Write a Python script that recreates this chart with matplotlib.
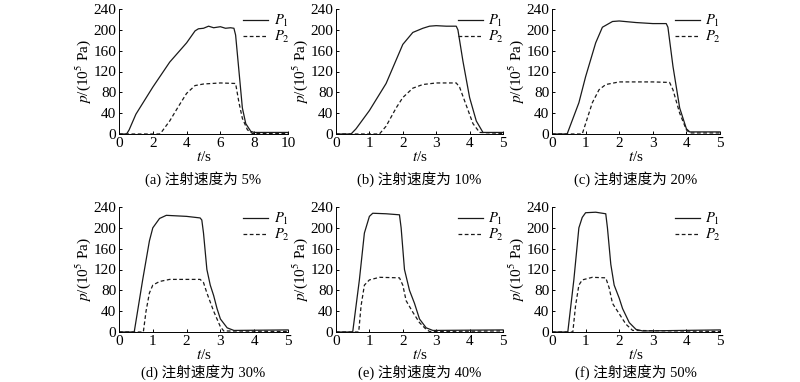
import matplotlib
matplotlib.use("Agg")
import matplotlib.pyplot as plt

plt.rcParams['font.family'] = ['Liberation Serif', 'Noto Sans CJK SC']
plt.rcParams['mathtext.fontset'] = 'stix'

# ---- data (t in s, p in 10^5 Pa) ----
# (a) 5%
ta_1 = [0, 0.45, 0.6, 1, 2, 3, 4, 4.5, 4.7, 5, 5.3, 5.6, 6, 6.3, 6.6, 6.8, 6.9, 7.1, 7.3, 7.5, 7.8, 8, 9, 10]
pa_1 = [0, 0, 8, 38, 90, 138, 175, 198, 202, 203, 207, 204, 206, 203, 204, 203, 190, 120, 50, 20, 5, 3, 3, 3]
ta_2 = [0, 2.4, 2.5, 3, 3.5, 4, 4.5, 5, 6, 6.9, 7.1, 7.3, 7.6, 7.9, 10]
pa_2 = [0, 0, 3, 25, 52, 78, 93, 96, 98, 97, 60, 30, 8, 1, 1]

# (b) 10%
tb_1 = [0, 0.45, 0.6, 1, 1.5, 2, 2.3, 2.6, 2.8, 3, 3.3, 3.6, 3.65, 3.8, 4.0, 4.2, 4.4, 5]
pb_1 = [0, 0, 10, 45, 97, 172, 195, 203, 207, 208, 207, 207, 200, 140, 70, 25, 3, 3]
tb_2 = [0, 1.3, 1.5, 1.8, 2, 2.3, 2.6, 3, 3.6, 3.7, 3.9, 4.1, 4.3, 5]
pb_2 = [0, 0, 15, 50, 70, 88, 95, 98, 98, 90, 55, 20, 3, 1]

# (c) 20%
tc_1 = [0, 0.45, 0.8, 1, 1.3, 1.5, 1.8, 2, 2.5, 3, 3.4, 3.45, 3.6, 3.8, 4.0, 4.1, 5]
pc_1 = [0, 0, 60, 110, 175, 205, 216, 217, 214, 212, 212, 205, 130, 50, 10, 4, 4]
tc_2 = [0, 0.9, 1.0, 1.2, 1.4, 1.6, 2, 3, 3.5, 3.6, 3.8, 4.0, 4.1, 5]
pc_2 = [0, 0, 20, 60, 85, 95, 100, 100, 99, 85, 40, 8, 2, 2]

# (d) 30%
td_1 = [0, 0.45, 0.7, 0.9, 1.0, 1.2, 1.4, 2, 2.4, 2.45, 2.5, 2.6, 2.7, 2.8, 2.9, 3.0, 3.2, 3.4, 5]
pd_1 = [0, 0, 100, 175, 200, 218, 224, 222, 219, 215, 190, 120, 90, 70, 45, 25, 8, 3, 4]
td_2 = [0, 0.72, 0.8, 0.9, 1.0, 1.2, 1.5, 2.4, 2.5, 2.6, 2.8, 3.0, 3.1, 5]
pd_2 = [0, 0, 40, 75, 90, 97, 101, 101, 95, 75, 40, 10, 2, 1]

# (e) 40%
te_1 = [0, 0.5, 0.7, 0.85, 1.0, 1.1, 1.5, 1.9, 1.95, 2.05, 2.2, 2.35, 2.5, 2.7, 2.9, 5]
pe_1 = [0, 0, 100, 190, 222, 228, 227, 225, 200, 120, 80, 55, 25, 8, 3, 4]
te_2 = [0, 0.68, 0.75, 0.85, 1.0, 1.3, 1.9, 2.0, 2.1, 2.3, 2.5, 2.7, 2.8, 5]
pe_2 = [0, 0, 50, 90, 100, 105, 104, 90, 60, 38, 18, 5, 1, 2]

# (f) 50%
tf_1 = [0, 0.47, 0.65, 0.8, 0.9, 1.0, 1.3, 1.6, 1.65, 1.75, 1.85, 2.0, 2.1, 2.3, 2.5, 2.7, 5]
pf_1 = [0, 0, 100, 200, 220, 229, 230, 227, 200, 130, 90, 65, 45, 18, 5, 2, 4]
tf_2 = [0, 0.62, 0.7, 0.8, 0.9, 1.2, 1.6, 1.7, 1.8, 2.0, 2.2, 2.4, 5]
pf_2 = [0, 0, 50, 90, 100, 105, 104, 85, 55, 35, 15, 3, 1]

captions = ['(a) 注射速度为 5%', '(b) 注射速度为 10%', '(c) 注射速度为 20%',
            '(d) 注射速度为 30%', '(e) 注射速度为 40%', '(f) 注射速度为 50%']
xmax = [10, 5, 5, 5, 5, 5]
curves = [(ta_1, pa_1, ta_2, pa_2), (tb_1, pb_1, tb_2, pb_2), (tc_1, pc_1, tc_2, pc_2),
          (td_1, pd_1, td_2, pd_2), (te_1, pe_1, te_2, pe_2), (tf_1, pf_1, tf_2, pf_2)]

W, H = 800, 382
lefts = [119, 336, 552]
widths = [169, 167, 168]
tops = [9, 207]
cap_y = [179, 372]
ax_h = 125

fig = plt.figure(figsize=(W / 100, H / 100), dpi=100)

for i in range(6):
    r, c = divmod(i, 3)
    ax = fig.add_axes([lefts[c] / W, 1 - (tops[r] + ax_h) / H, widths[c] / W, ax_h / H])
    t1, p1, t2, p2 = curves[i]
    ax.plot(t1, p1, color='#1a1a1a', lw=0.9, label='$P_1$')
    ax.plot(t2, p2, color='#1a1a1a', lw=0.9, ls=(0, (3, 2)), label='$P_2$')
    ax.set_xlim(0, xmax[i])
    ax.set_ylim(0, 240)
    ax.set_yticks(range(0, 241, 40))
    if xmax[i] == 10:
        ax.set_xticks(range(0, 11, 2))
    else:
        ax.set_xticks(range(0, 6))
    ax.spines['top'].set_visible(False)
    ax.spines['right'].set_visible(False)
    for s in ('left', 'bottom'):
        ax.spines[s].set_linewidth(0.7)
    ax.tick_params(direction='in', length=2.5, width=0.7, labelsize=11, pad=2)
    ax.set_xlabel('$t$/s', fontsize=11, labelpad=0)
    ax.set_ylabel('$p$/(10$^5$ Pa)', fontsize=11, labelpad=0)
    ax.legend(loc='upper right', bbox_to_anchor=(1.06, 1.04), frameon=False, fontsize=10.5,
              handlelength=1.7, handletextpad=0.4, labelspacing=0.0, borderaxespad=0.2)
    cx = (lefts[c] + widths[c] / 2) / W
    cy = 1 - cap_y[r] / H
    fig.text(cx, cy, captions[i], ha='center', va='center', fontsize=10.5,
             family=['Liberation Serif', 'Noto Sans CJK SC'])

fig.savefig('out.png', dpi=100)
